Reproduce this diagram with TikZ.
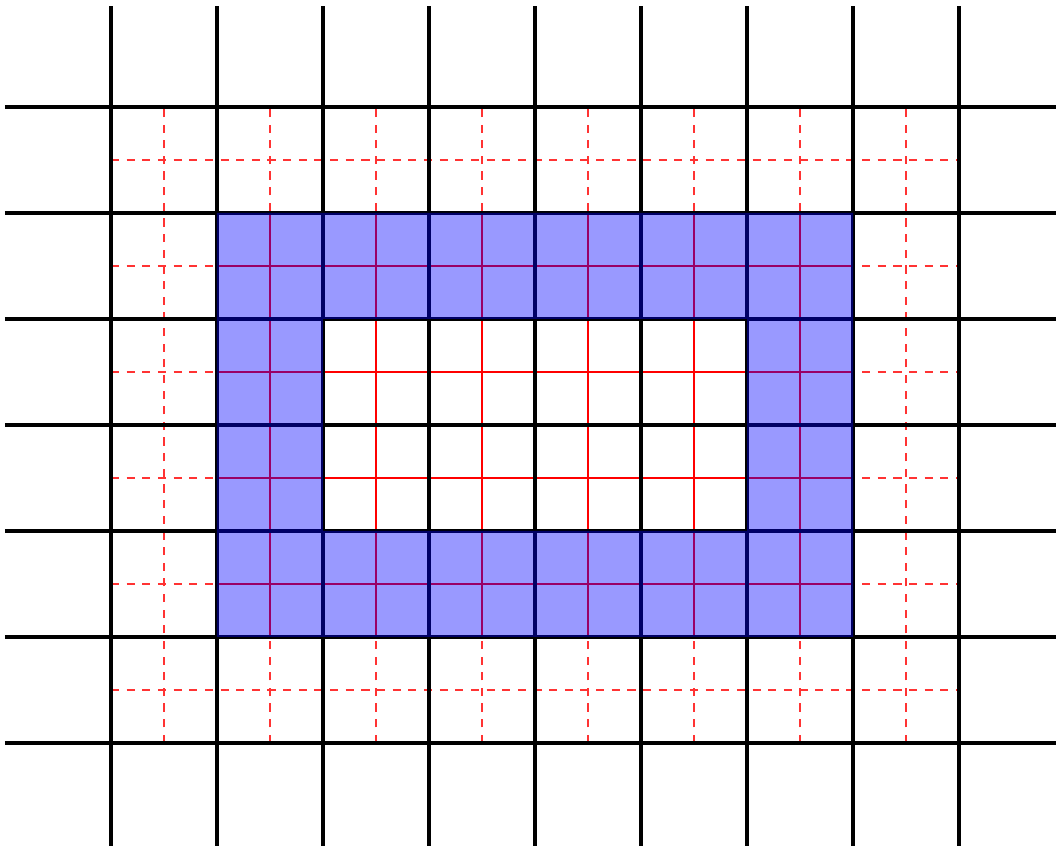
\documentclass[tikz,border=0pt]{standalone}
\usepackage{tikz}

\begin{document}
\begin{tikzpicture}[
    coarse/.style={black, line width=0.9pt},
    fine dashed/.style={red!80, line width=0.4pt, dash pattern=on 2.2pt off 2pt},
    fine solid/.style={red, line width=0.4pt},
    ring/.style={fill=blue, fill opacity=0.4, even odd rule}
]
\useasboundingbox (-1.047,-0.972) rectangle (8.915,7.009);
\clip (-1.047,-0.972) rectangle (8.915,7.009);

\foreach \x in {0.5,1.5,...,7.5}
    \draw[fine dashed] (\x,0) -- (\x,6);
\foreach \y in {0.5,1.5,...,5.5}
    \draw[fine dashed] (0,\y) -- (8,\y);

\foreach \x in {1.5,2.5,...,6.5}
    \draw[fine solid] (\x,1) -- (\x,5);
\foreach \y in {1.5,2.5,3.5,4.5}
    \draw[fine solid] (1,\y) -- (7,\y);

\foreach \x in {0,...,8}
    \draw[coarse] (\x,-1) -- (\x,6.95);
\foreach \y in {0,...,6}
    \draw[coarse] (-1,\y) -- (9,\y);

\fill[ring] (1,1) rectangle (7,5) (2,2) rectangle (6,4);

\end{tikzpicture}
\end{document}
